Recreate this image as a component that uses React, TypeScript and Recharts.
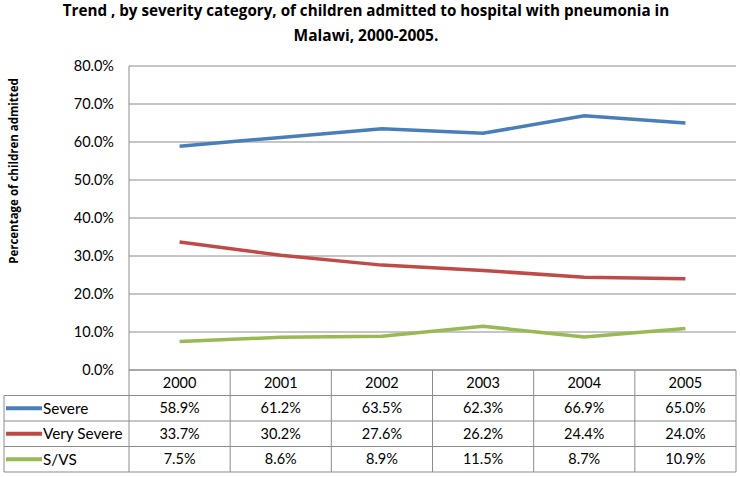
import React from "react";
import { LineChart, Line, XAxis, YAxis, CartesianGrid } from "recharts";

const years = ["2000", "2001", "2002", "2003", "2004", "2005"];
const severe = [58.9, 61.2, 63.5, 62.3, 66.9, 65.0];
const verySevere = [33.7, 30.2, 27.6, 26.2, 24.4, 24.0];
const svs = [7.5, 8.6, 8.9, 11.5, 8.7, 10.9];
const yTicks = [0, 10, 20, 30, 40, 50, 60, 70, 80];

const seriesDefs = [
  { key: "severe", name: "Severe", values: severe, color: "#4A7EBB" },
  { key: "verySevere", name: "Very Severe", values: verySevere, color: "#BE4B48" },
  { key: "svs", name: "S/VS", values: svs, color: "#98B954" },
];

const data = years.map((y, i) => ({
  year: y,
  severe: severe[i],
  verySevere: verySevere[i],
  svs: svs[i],
}));

const W = 740;
const H = 477;
const PLOT_LEFT = 129;
const PLOT_RIGHT = 736;
const PLOT_TOP = 66;
const PLOT_BOTTOM = 370;
const ROW_H = 25.5;
const TABLE_LEFT = 4;
const FONT = "Lato, 'Open Sans', sans-serif";
const TITLE_FONT = "'Open Sans', Lato, sans-serif";
const GRID = "#8C8C8C";

const fmt = (v: number) => v.toFixed(1) + "%";

const TableTick = (props: any) => {
  const { x, payload, index } = props;
  const colW = (PLOT_RIGHT - PLOT_LEFT) / years.length;
  const left = x - colW / 2;
  const right = x + colW / 2;
  const top = PLOT_BOTTOM;
  const bottom = top + ROW_H * 4;
  const els: any[] = [];
  for (let r = 1; r <= 4; r++) {
    els.push(
      <line key={"h" + r} x1={left} x2={right} y1={top + ROW_H * r} y2={top + ROW_H * r} stroke={GRID} strokeWidth={1} />
    );
  }
  els.push(<line key="vr" x1={right} x2={right} y1={top} y2={bottom} stroke={GRID} strokeWidth={1} />);
  if (index === 0) {
    els.push(<line key="vl" x1={left} x2={left} y1={top} y2={bottom} stroke={GRID} strokeWidth={1} />);
    for (let r = 1; r <= 4; r++) {
      els.push(
        <line key={"lh" + r} x1={TABLE_LEFT} x2={left} y1={top + ROW_H * r} y2={top + ROW_H * r} stroke={GRID} strokeWidth={1} />
      );
    }
    els.push(<line key="lv" x1={TABLE_LEFT} x2={TABLE_LEFT} y1={top + ROW_H} y2={bottom} stroke={GRID} strokeWidth={1} />);
    seriesDefs.forEach((s, i) => {
      const cy = top + ROW_H * (i + 1) + ROW_H / 2;
      els.push(
        <line key={"sw" + i} x1={TABLE_LEFT + 2} x2={42} y1={cy} y2={cy} stroke={s.color} strokeWidth={4} />
      );
      els.push(
        <text key={"sl" + i} x={43} y={cy} dy="0.35em" fontSize={15.3} fontFamily={FONT} fill="#000">
          {s.name}
        </text>
      );
    });
  }
  els.push(
    <text key="yr" x={x} y={top + ROW_H / 2} dy="0.35em" textAnchor="middle" fontSize={14.5} fontFamily={FONT} fill="#000">
      {payload.value}
    </text>
  );
  seriesDefs.forEach((s, i) => {
    const cy = top + ROW_H * (i + 1) + ROW_H / 2;
    els.push(
      <text key={"v" + i} x={x} y={cy} dy="0.35em" textAnchor="middle" fontSize={14.5} fontFamily={FONT} fill="#000">
        {fmt(s.values[index])}
      </text>
    );
  });
  return <g>{els}</g>;
};

export default function App() {
  return (
    <div style={{ position: "absolute", left: 0, top: 0, width: W, height: H, background: "#fff" }}>
      <LineChart
        width={W}
        height={H}
        data={data}
        margin={{ top: PLOT_TOP, right: W - PLOT_RIGHT, bottom: 0, left: 69 }}
      >
        <CartesianGrid vertical={false} stroke={GRID} strokeWidth={1} />
        <XAxis
          dataKey="year"
          scale="band"
          interval={0}
          height={H - PLOT_BOTTOM}
          tickLine={false}
          tickSize={0}
          tickMargin={0}
          axisLine={{ stroke: GRID }}
          tick={<TableTick />}
        />
        <YAxis
          width={PLOT_LEFT - 69}
          domain={[0, 80]}
          ticks={yTicks}
          tickFormatter={fmt}
          tickLine={false}
          tickSize={0}
          tickMargin={15}
          axisLine={{ stroke: GRID }}
          tick={{ fontSize: 14.5, fontFamily: FONT, fill: "#000" }}
        />
        {seriesDefs.map((s) => (
          <Line
            key={s.key}
            dataKey={s.key}
            name={s.name}
            type="linear"
            stroke={s.color}
            strokeWidth={3.5}
            dot={false}
            activeDot={false}
            isAnimationActive={false}
          />
        ))}
      </LineChart>
      <svg
        width={W}
        height={H}
        style={{ position: "absolute", left: 0, top: 0, pointerEvents: "none" }}
      >
        <text x={366} y={16} textAnchor="middle" fontSize={15.2} fontWeight="bold" fontFamily={TITLE_FONT} fill="#000">
          Trend , by severity category, of children admitted to hospital with pneumonia in
        </text>
        <text x={366} y={41} textAnchor="middle" fontSize={15.5} fontWeight="bold" fontFamily={TITLE_FONT} fill="#000">
          Malawi, 2000-2005.
        </text>
        <text
          x={0}
          y={0}
          transform="translate(18,171) rotate(-90)"
          textAnchor="middle"
          fontSize={11.5}
          fontWeight="bold"
          fontFamily={TITLE_FONT}
          fill="#000"
        >
          Percentage of children admitted
        </text>
      </svg>
    </div>
  );
}
